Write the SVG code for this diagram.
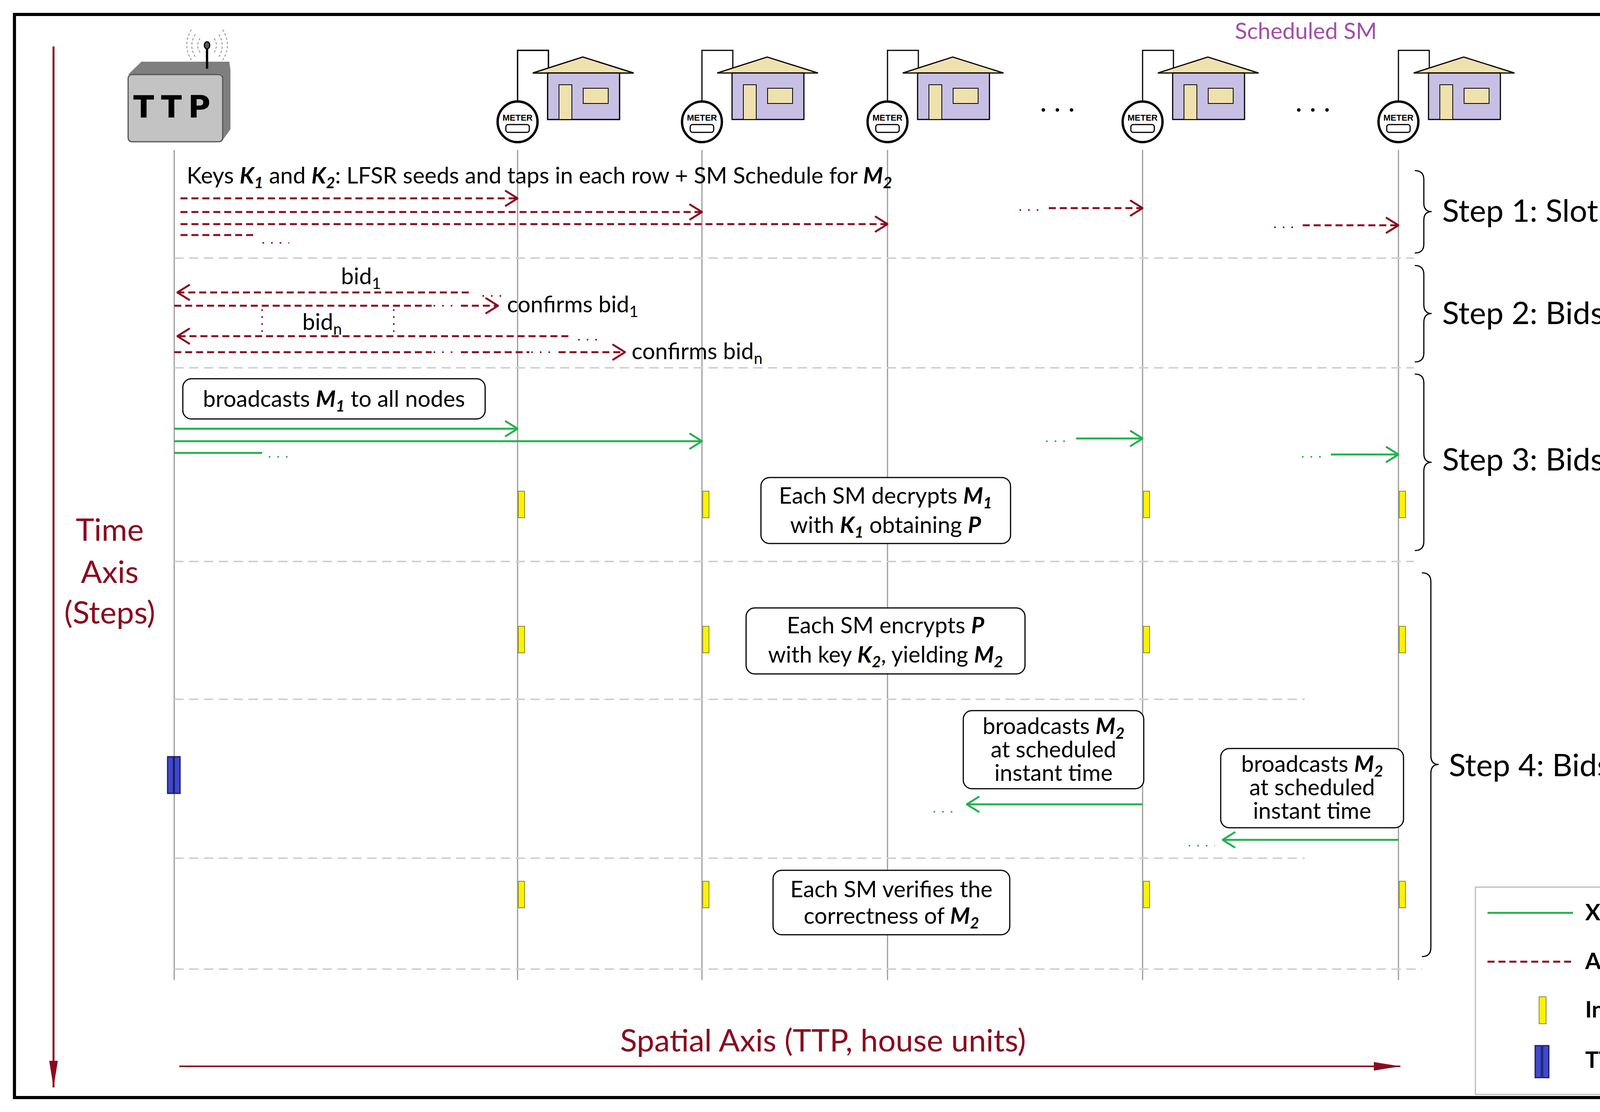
<svg xmlns="http://www.w3.org/2000/svg" width="4877" height="2848" viewBox="0 0 4877 2848">
<style>
text{font-family:Lato,"Open Sans","Liberation Sans",sans-serif;fill:#000}
.t{font-size:58px}
.st{font-size:80px}
.life{stroke:#9a9a9a;stroke-width:3}
.sep{stroke:#d0d0d0;stroke-width:4;stroke-dasharray:24 14}
.aes{stroke:#8B0A1E;stroke-width:5;stroke-dasharray:18 10;fill:none}
.xor{stroke:#22B14C;stroke-width:5;fill:none}
.dotr{stroke:#8B0A1E;stroke-width:4;stroke-dasharray:4 18;fill:none}
.dotg{stroke:#22B14C;stroke-width:4;stroke-dasharray:4 18;fill:none}
.box{fill:#fff;stroke:#000;stroke-width:3}
.yel{fill:#FFF200;stroke:#8a8a30;stroke-width:2}
.brace{fill:none;stroke:#000;stroke-width:3}
.sub{font-size:40px}
.bi{font-weight:bold;font-style:italic}
</style>
<defs>
<marker id="ar" markerUnits="userSpaceOnUse" markerWidth="40" markerHeight="44" refX="38" refY="22" orient="auto"><path d="M6,2 L38,22 L6,42" fill="none" stroke="#8B0A1E" stroke-width="5"/></marker>
<marker id="ag" markerUnits="userSpaceOnUse" markerWidth="40" markerHeight="44" refX="38" refY="22" orient="auto"><path d="M6,2 L38,22 L6,42" fill="none" stroke="#22B14C" stroke-width="5"/></marker>
<marker id="ax" markerUnits="userSpaceOnUse" markerWidth="70" markerHeight="30" refX="68" refY="15" orient="auto"><path d="M0,4 L68,15 L0,26 Z" fill="#8B0A1E"/></marker>
<g id="house">
<path d="M0,-52 V-183 H79 V-125" fill="none" stroke="#000" stroke-width="3"/>
<polygon points="39,-125 167,-166 297,-125" fill="#EEE1AE" stroke="#000" stroke-width="3"/>
<rect class="hb" x="77" y="-125" width="184" height="119" stroke="#000" stroke-width="3"/>
<rect x="106" y="-95" width="33" height="89" fill="#EEE1AE" stroke="#000" stroke-width="2"/>
<rect x="168" y="-86" width="64" height="39" fill="#EEE1AE" stroke="#000" stroke-width="2"/>
<ellipse class="mt" cx="0" cy="0" rx="51" ry="52" stroke="#000" stroke-width="6"/>
<text x="0" y="-3" text-anchor="middle" style="font-size:22px;font-weight:bold;font-family:'Liberation Sans Narrow','Liberation Sans',sans-serif">METER</text>
<rect class="md" x="-30" y="7" width="60" height="20" rx="6" stroke="#000" stroke-width="3"/>
</g>
</defs>
<rect x="37" y="37" width="4796" height="2774" fill="#fff" stroke="#000" stroke-width="8"/>

<g id="time-axis">
<line x1="137" y1="119" x2="137" y2="2785" stroke="#8B0A1E" stroke-width="5" marker-end="url(#ax)"/>
<text x="281" y="1385" text-anchor="middle" class="st" style="fill:#8B0A1E">Time</text>
<text x="281" y="1493" text-anchor="middle" class="st" style="fill:#8B0A1E">Axis</text>
<text x="281" y="1597" text-anchor="middle" class="st" style="fill:#8B0A1E">(Steps)</text>
</g>

<g id="ttp">
<polygon points="362,158 587,158 590,180 590,331 568,362 568,191 328,191" fill="#7f7f7f"/>
<rect x="328" y="191" width="242" height="172" rx="10" fill="#c3c3c3" stroke="#555" stroke-width="3"/>
<line x1="530" y1="176" x2="530" y2="116" stroke="#000" stroke-width="6"/>
<ellipse cx="530" cy="116" rx="7" ry="9" fill="#555" stroke="#000" stroke-width="3"/>
<path d="M512,98 Q500,116 512,134 M548,98 Q560,116 548,134 M500,88 Q482,116 500,146 M560,88 Q578,116 560,146 M490,76 Q466,116 490,154 M570,76 Q594,116 570,154" fill="none" stroke="#888" stroke-width="2" stroke-dasharray="6 5"/>
<text x="448" y="301" text-anchor="middle" style="font-size:78px;font-weight:bold;letter-spacing:16px;font-family:'DejaVu Sans',sans-serif">TTP</text>
</g>

<g id="houses">
<use href="#house" x="1325" y="312" style="--x:0" class="h1"/>
</g>
<style>
.hb{fill:#C8C0E4}.mt{fill:#fff}.md{fill:#fff}
#sm4 .hb,#sm5 .hb{fill:#A0489E}
#sm4 .mt,#sm5 .mt{fill:#F9B0C8}
#sm4 .md,#sm5 .md{fill:#EEE1AE}
</style>
<g id="sm1"><use href="#house" x="1325" y="312"/></g>
<g id="sm2"><use href="#house" x="1797" y="312"/></g>
<g id="sm3"><use href="#house" x="2272" y="312"/></g>
<g id="sm4"><use href="#house" x="2925" y="312"/></g>
<g id="sm5"><use href="#house" x="3580" y="312"/></g>
<text x="2718" y="286" text-anchor="middle" style="font-size:60px;letter-spacing:22px;font-weight:bold">...</text>
<text x="3372" y="286" text-anchor="middle" style="font-size:60px;letter-spacing:22px;font-weight:bold">...</text>
<text x="3343" y="100" text-anchor="middle" class="t" style="fill:#A24EA8">Scheduled SM</text>

<g id="lifelines">
<line class="life" x1="446" y1="384" x2="446" y2="2510"/>
<line class="life" x1="1325" y1="384" x2="1325" y2="2510"/>
<line class="life" x1="1797" y1="384" x2="1797" y2="2510"/>
<line class="life" x1="2272" y1="384" x2="2272" y2="2510"/>
<line class="life" x1="2925" y1="384" x2="2925" y2="2510"/>
<line class="life" x1="3580" y1="384" x2="3580" y2="2510"/>
<line class="sep" x1="446" y1="661" x2="3620" y2="661"/>
<line class="sep" x1="446" y1="942" x2="3620" y2="942"/>
<line class="sep" x1="446" y1="1438" x2="3620" y2="1438"/>
<line class="sep" x1="446" y1="1791" x2="3340" y2="1791"/>
<line class="sep" x1="446" y1="2198" x2="3340" y2="2198"/>
<line class="sep" x1="446" y1="2482" x2="3640" y2="2482"/>
</g>

<g id="connectors">
<path class="aes" d="M462,508 H1325" marker-end="url(#ar)"/>
<path class="aes" d="M462,543 H1797" marker-end="url(#ar)"/>
<path class="aes" d="M462,574 H2272" marker-end="url(#ar)"/>
<path class="aes" d="M462,602 H655"/>
<path class="dotr" d="M672,622 H740"/>
<path class="dotr" d="M2610,538 H2670"/>
<path class="aes" d="M2685,533 H2925" marker-end="url(#ar)"/>
<path class="dotr" d="M3262,582 H3325"/>
<path class="aes" d="M3335,577 H3580" marker-end="url(#ar)"/>

<path class="aes" d="M1200,749 H454" marker-end="url(#ar)"/>
<path class="dotr" d="M1235,758 H1290"/>
<path class="aes" d="M446,783 H1105"/>
<path class="dotr" d="M1110,783 H1170"/>
<path class="aes" d="M1180,783 H1275" marker-end="url(#ar)"/>
<path class="dotr" d="M671,792 V858" style="stroke-dasharray:4 14"/>
<path class="dotr" d="M1008,792 V858" style="stroke-dasharray:4 14"/>
<path class="aes" d="M1455,861 H454" marker-end="url(#ar)"/>
<path class="dotr" d="M1480,870 H1540"/>
<path class="aes" d="M446,902 H1105"/>
<path class="dotr" d="M1110,902 H1170"/>
<path class="aes" d="M1180,902 H1355"/>
<path class="dotr" d="M1360,902 H1420"/>
<path class="aes" d="M1430,902 H1600" marker-end="url(#ar)"/>

<path class="xor" d="M446,1098 H1325" marker-end="url(#ag)"/>
<path class="xor" d="M446,1130 H1797" marker-end="url(#ag)"/>
<path class="xor" d="M446,1160 H671"/>
<path class="dotg" d="M688,1170 H745"/>
<path class="dotg" d="M2678,1130 H2740"/>
<path class="xor" d="M2755,1123 H2925" marker-end="url(#ag)"/>
<path class="dotg" d="M3333,1170 H3395"/>
<path class="xor" d="M3407,1164 H3580" marker-end="url(#ag)"/>

<path class="xor" d="M2925,2060 H2475" marker-end="url(#ag)"/>
<path class="dotg" d="M2390,2079 H2455"/>
<path class="xor" d="M3580,2151 H3130" marker-end="url(#ag)"/>
<path class="dotg" d="M3043,2166 H3110"/>

<line x1="459" y1="2731" x2="3585" y2="2731" stroke="#8B0A1E" stroke-width="4" marker-end="url(#ax)"/>
</g>

<g id="labels">
<text x="478" y="470" class="t">Keys <tspan class="bi">K</tspan><tspan class="sub bi" dy="12">1</tspan><tspan dy="-12"> and </tspan><tspan class="bi">K</tspan><tspan class="sub bi" dy="12">2</tspan><tspan dy="-12">: LFSR seeds and taps in each row + SM Schedule for </tspan><tspan class="bi">M</tspan><tspan class="sub bi" dy="12">2</tspan></text>
<text x="873" y="728" class="t">bid<tspan class="sub" dy="12">1</tspan></text>
<text x="1298" y="800" class="t">confirms bid<tspan class="sub" dy="12">1</tspan></text>
<text x="774" y="845" class="t">bid<tspan class="sub" dy="12">n</tspan></text>
<text x="1617" y="920" class="t">confirms bid<tspan class="sub" dy="12">n</tspan></text>
</g>

<g id="yellow">
<rect class="yel" x="1327" y="1258" width="16" height="68"/><rect class="yel" x="1799" y="1258" width="16" height="68"/><rect class="yel" x="2927" y="1258" width="16" height="68"/><rect class="yel" x="3582" y="1258" width="16" height="68"/>
<rect class="yel" x="1327" y="1604" width="16" height="68"/><rect class="yel" x="1799" y="1604" width="16" height="68"/><rect class="yel" x="2927" y="1604" width="16" height="68"/><rect class="yel" x="3582" y="1604" width="16" height="68"/>
<rect class="yel" x="1327" y="2257" width="16" height="68"/><rect class="yel" x="1799" y="2257" width="16" height="68"/><rect class="yel" x="2927" y="2257" width="16" height="68"/><rect class="yel" x="3582" y="2257" width="16" height="68"/>
</g>

<g id="ttp-surv">
<rect x="429" y="1938" width="15" height="94" fill="#3F48CC" stroke="#1a1a66" stroke-width="3"/>
<rect x="446" y="1938" width="15" height="94" fill="#3F48CC" stroke="#1a1a66" stroke-width="3"/>
</g>

<g id="box-m1">
<rect class="box" x="468" y="970" width="774" height="103" rx="22"/>
<text x="855" y="1042" text-anchor="middle" class="t">broadcasts <tspan class="bi">M</tspan><tspan class="sub bi" dy="12">1</tspan><tspan dy="-12"> to all nodes</tspan></text>
</g>
<g id="box-decrypt">
<rect class="box" x="1948" y="1223" width="639" height="169" rx="22"/>
<text x="2267" y="1290" text-anchor="middle" class="t">Each SM decrypts <tspan class="bi">M</tspan><tspan class="sub bi" dy="12">1</tspan></text>
<text x="2267" y="1365" text-anchor="middle" class="t">with <tspan class="bi">K</tspan><tspan class="sub bi" dy="12">1</tspan><tspan dy="-12"> obtaining </tspan><tspan class="bi">P</tspan></text>
</g>
<g id="box-encrypt">
<rect class="box" x="1910" y="1557" width="714" height="169" rx="22"/>
<text x="2267" y="1622" text-anchor="middle" class="t">Each SM encrypts <tspan class="bi">P</tspan></text>
<text x="2267" y="1697" text-anchor="middle" class="t">with key <tspan class="bi">K</tspan><tspan class="sub bi" dy="12">2</tspan><tspan dy="-12">, yielding </tspan><tspan class="bi">M</tspan><tspan class="sub bi" dy="12">2</tspan></text>
</g>
<g id="box-bc1">
<rect class="box" x="2466" y="1820" width="462" height="200" rx="22"/>
<text x="2697" y="1880" text-anchor="middle" class="t">broadcasts  <tspan class="bi">M</tspan><tspan class="sub bi" dy="12">2</tspan></text>
<text x="2697" y="1940" text-anchor="middle" class="t">at scheduled</text>
<text x="2697" y="2000" text-anchor="middle" class="t">instant time</text>
</g>
<g id="box-bc2">
<rect class="box" x="3125" y="1917" width="468" height="203" rx="22"/>
<text x="3359" y="1977" text-anchor="middle" class="t">broadcasts  <tspan class="bi">M</tspan><tspan class="sub bi" dy="12">2</tspan></text>
<text x="3359" y="2037" text-anchor="middle" class="t">at scheduled</text>
<text x="3359" y="2097" text-anchor="middle" class="t">instant time</text>
</g>
<g id="box-verify">
<rect class="box" x="1979" y="2229" width="606" height="165" rx="22"/>
<text x="2282" y="2298" text-anchor="middle" class="t">Each SM verifies the</text>
<text x="2282" y="2366" text-anchor="middle" class="t">correctness of <tspan class="bi">M</tspan><tspan class="sub bi" dy="12">2</tspan></text>
</g>

<g id="steps">
<path class="brace" d="M3622,437 Q3645,437 3645,460 V520 Q3645,542 3665,542 Q3645,542 3645,564 V625 Q3645,648 3622,648"/>
<path class="brace" d="M3622,680 Q3645,680 3645,703 V780 Q3645,803 3665,803 Q3645,803 3645,826 V904 Q3645,927 3622,927"/>
<path class="brace" d="M3622,958 Q3645,958 3645,981 V1161 Q3645,1184 3665,1184 Q3645,1184 3645,1207 V1387 Q3645,1410 3622,1410"/>
<path class="brace" d="M3640,1467 Q3663,1467 3663,1490 V1935 Q3663,1958 3683,1958 Q3663,1958 3663,1981 V2427 Q3663,2450 3640,2450"/>
<text x="3692" y="568" class="st">Step 1: Slot Zero</text>
<text x="3692" y="830" class="st">Step 2: Bids Submission</text>
<text x="3692" y="1205" class="st">Step 3: Bids Disclosure</text>
<text x="3709" y="1988" class="st">Step 4: Bids Verification</text>
</g>

<text x="2107" y="2693" text-anchor="middle" class="st" style="fill:#8B0A1E">Spatial Axis (TTP, house units)</text>

<g id="legend">
<rect x="3777" y="2272" width="968" height="531" fill="#fff" stroke="#bbb" stroke-width="3"/>
<line class="xor" x1="3808" y1="2338" x2="4027" y2="2338"/>
<line class="aes" x1="3808" y1="2463" x2="4027" y2="2463"/>
<rect class="yel" x="3940" y="2553" width="18" height="69"/>
<rect x="3930" y="2678" width="16" height="82" fill="#3F48CC" stroke="#1a1a66" stroke-width="3"/>
<rect x="3949" y="2678" width="16" height="82" fill="#3F48CC" stroke="#1a1a66" stroke-width="3"/>
<text x="4058" y="2357" class="t" style="font-weight:bold">XOR Encrypted Data</text>
<text x="4058" y="2482" class="t" style="font-weight:bold">AES Encrypted Data</text>
<text x="4058" y="2606" class="t" style="font-weight:bold">Internal Process</text>
<text x="4058" y="2735" class="t" style="font-weight:bold">TTP Surveillance</text>
</g>
</svg>
